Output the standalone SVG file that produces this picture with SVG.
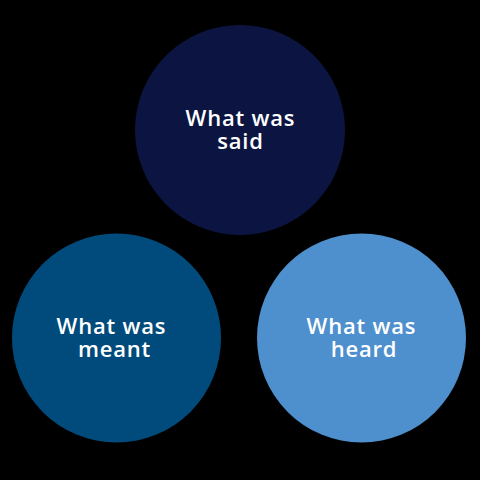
<svg xmlns="http://www.w3.org/2000/svg" width="480" height="480" viewBox="0 0 480 480">
<style>
.lbl{font-family:"Open Sans","Liberation Sans",sans-serif;font-weight:600;font-size:22px;letter-spacing:0.8px;fill:#ffffff;text-anchor:middle}
</style>
<rect width="480" height="480" fill="#000000"/>
<g id="said">
<circle cx="240" cy="130" r="105" fill="#0c1541"/>
<text class="lbl" x="240.5" y="126">What was</text>
<text class="lbl" x="240.5" y="149">said</text>
</g>
<g id="meant">
<circle cx="116.5" cy="338" r="104.5" fill="#004b7b"/>
<text class="lbl" x="111.5" y="334">What was</text>
<text class="lbl" x="114.5" y="357">meant</text>
</g>
<g id="heard">
<circle cx="361.5" cy="338" r="104.5" fill="#4e8fcd"/>
<text class="lbl" x="361.5" y="334">What was</text>
<text class="lbl" x="364" y="357">heard</text>
</g>
<g id="connectors"></g>
</svg>
